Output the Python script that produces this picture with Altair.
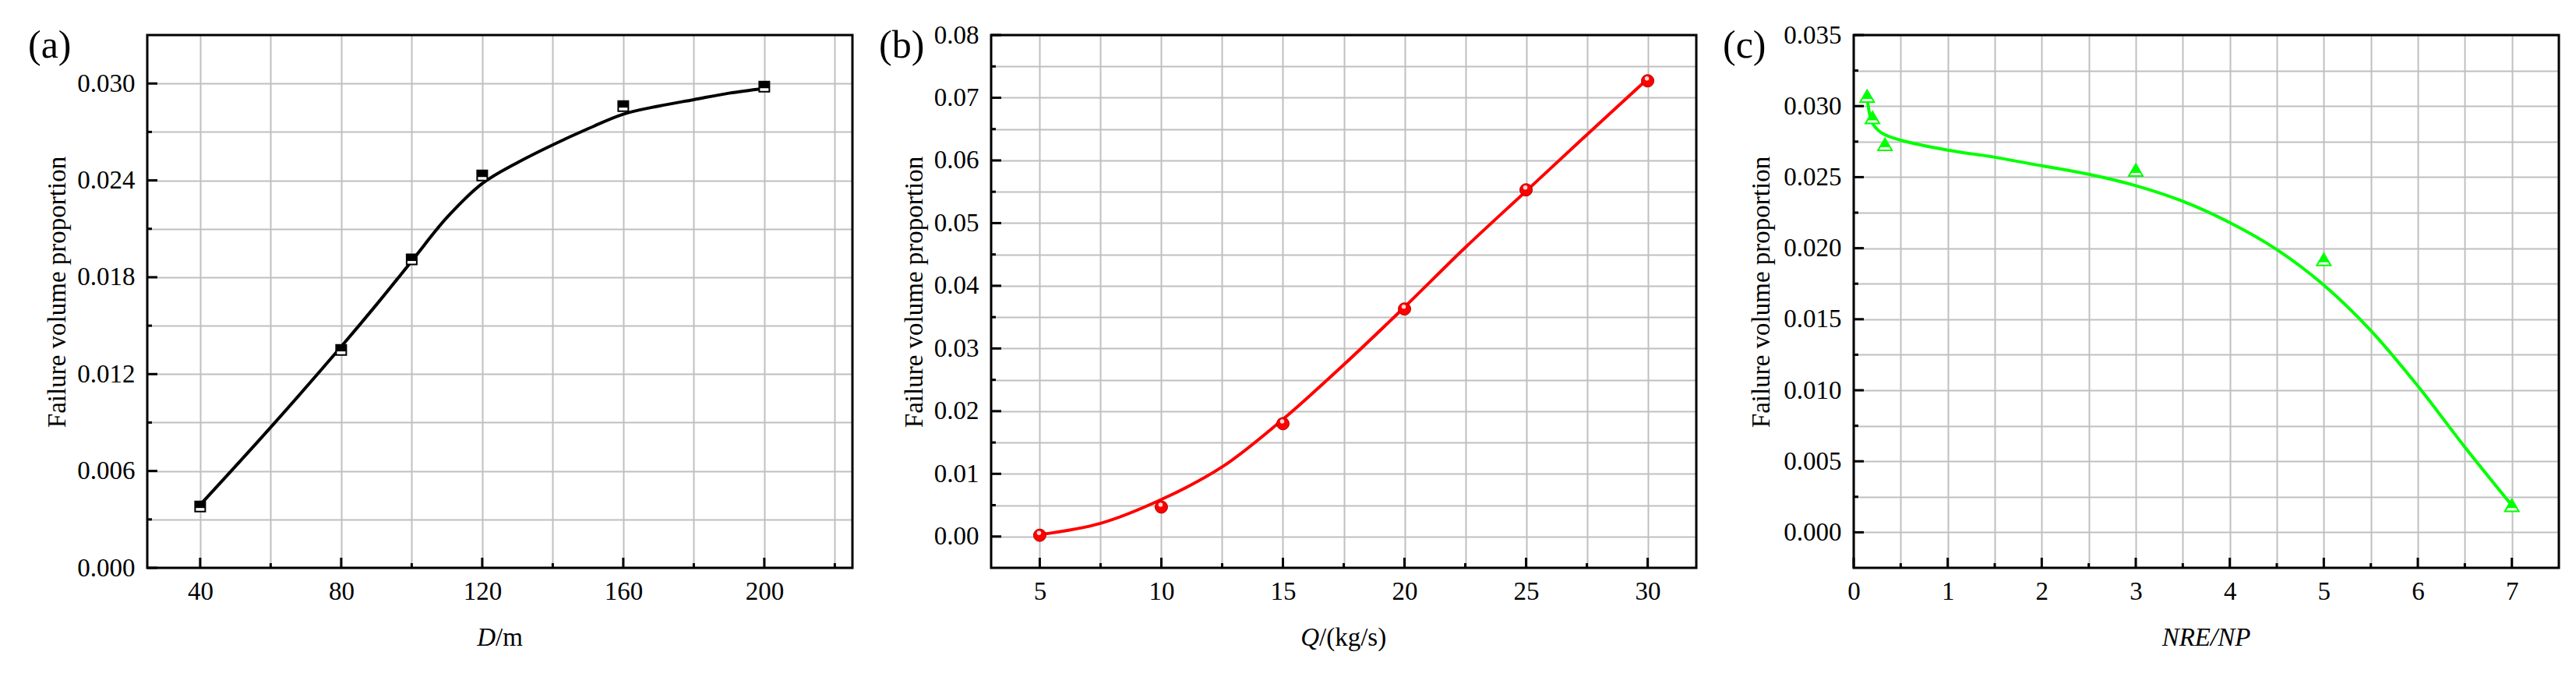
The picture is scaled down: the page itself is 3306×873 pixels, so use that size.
import altair as alt
import pandas as pd

FONT = "Liberation Serif"
W, H = 905, 684

# ---------------- data ----------------
# (a) failure volume proportion vs D/m
a_x = [40, 80, 100, 120, 160, 200]
a_y = [0.0038, 0.0135, 0.0191, 0.0243, 0.0286, 0.0298]
a_fit_x = [40, 60, 80, 90, 100, 110, 120, 130, 140, 150, 160, 170, 180, 190, 200]
a_fit_y = [0.0039, 0.0087, 0.0137, 0.0163, 0.0190, 0.0217, 0.0238, 0.0251, 0.0262,
           0.0272, 0.0281, 0.0286, 0.0290, 0.0294, 0.0297]

# (b) failure volume proportion vs Q/(kg/s)
b_x = [5, 10, 15, 20, 25, 30]
b_y = [0.0002, 0.0047, 0.0180, 0.0363, 0.0553, 0.0727]
b_fit_x = [5, 7.5, 10, 12.5, 15, 17.5, 20, 22.5, 25, 27.5, 30]
b_fit_y = [0.0003, 0.0021, 0.0059, 0.0111, 0.0187, 0.0274, 0.0366, 0.0461, 0.0551,
           0.0641, 0.0730]

# (c) failure volume proportion vs NRE/NP
c_x = [0.143, 0.2, 0.333, 3, 5, 7]
c_y = [0.0307, 0.0292, 0.0273, 0.0255, 0.0192, 0.0019]
c_fit_x = [0.143, 0.2, 0.3, 0.5, 1, 1.5, 2, 2.5, 3, 3.5, 4, 4.5, 5, 5.5, 6, 6.5, 7]
c_fit_y = [0.0306, 0.0288, 0.0281, 0.0276, 0.0269, 0.0264, 0.0258, 0.0252, 0.0244,
           0.0233, 0.0218, 0.0199, 0.0174, 0.0142, 0.0103, 0.0060, 0.0019]

# axis tick values (grid at every tick, labels at major ticks)
a_xticks_major = [40, 80, 120, 160, 200]
a_xticks_minor = [60, 100, 140, 180, 220]
a_yticks_major = [0.0, 0.006, 0.012, 0.018, 0.024, 0.030]
a_yticks_minor = [0.003, 0.009, 0.015, 0.021, 0.027]

b_xticks_major = [5, 10, 15, 20, 25, 30]
b_xticks_minor = [7.5, 12.5, 17.5, 22.5, 27.5]
b_yticks_major = [0.0, 0.01, 0.02, 0.03, 0.04, 0.05, 0.06, 0.07, 0.08]
b_yticks_minor = [0.005, 0.015, 0.025, 0.035, 0.045, 0.055, 0.065, 0.075]

c_xticks_major = [0, 1, 2, 3, 4, 5, 6, 7]
c_xticks_minor = [0.5, 1.5, 2.5, 3.5, 4.5, 5.5, 6.5]
c_yticks_major = [0.0, 0.005, 0.010, 0.015, 0.020, 0.025, 0.030, 0.035]
c_yticks_minor = [0.0025, 0.0075, 0.0125, 0.0175, 0.0225, 0.0275, 0.0325]

YTITLE = "Failure volume proportion"


def label_expr(majors, fmt, mult):
    keys = ",".join(str(int(round(m * mult))) for m in majors)
    return (f"indexof([{keys}], round(datum.value*{mult})) >= 0 ? "
            f"format(datum.value, '{fmt}') : ''")


def text_layer(txt, x, y, size=33, style="normal", align="center", angle=0, baseline="middle"):
    kw = dict(font=FONT, fontSize=size, fontStyle=style, align=align,
              baseline=baseline, color="black")
    if angle:
        kw["angle"] = angle
    return alt.Chart(pd.DataFrame({"t": [txt]})).mark_text(**kw).encode(
        text="t:N", x=alt.value(x), y=alt.value(y))


def panel(xs, ys, fx, fy, xdom, ydom, xmaj, xmin, ymaj, ymin, xfmt, yfmt,
          xmult, ymult, color, markers, xtitle_layers, plabel, plabel_x, ytitle_x):
    xs_scale = alt.Scale(domain=xdom, nice=False, zero=False)
    ys_scale = alt.Scale(domain=ydom, nice=False, zero=False)
    xvals = sorted(xmaj + xmin)
    yvals = sorted(ymaj + ymin)
    xaxis = alt.Axis(values=xvals, labelExpr=label_expr(xmaj, xfmt, xmult), title="",
                     grid=True, ticks=False, domain=False, labelPadding=14,
                     labelFlush=False, labelOverlap=False)
    yaxis = alt.Axis(values=yvals, labelExpr=label_expr(ymaj, yfmt, ymult), title="",
                     grid=True, ticks=False, domain=False, labelPadding=16,
                     labelFlush=False, labelOverlap=False)

    def X(f):
        return alt.X(f, scale=xs_scale, axis=xaxis)

    def Y(f):
        return alt.Y(f, scale=ys_scale, axis=yaxis)

    df_fit = pd.DataFrame({"x": fx, "y": fy})
    df_pts = pd.DataFrame({"x": xs, "y": ys})

    base = alt.Chart(df_fit).mark_line(color=color, strokeWidth=4,
                                       interpolate="catmull-rom").encode(
        x=X("x:Q"), y=Y("y:Q"))
    layers = [base]
    for mk in markers:
        layers.append(alt.Chart(df_pts).mark_point(**mk).encode(x=X("x:Q"), y=Y("y:Q")))

    tick = dict(color="black", strokeWidth=3)
    layers.append(alt.Chart(pd.DataFrame({"x": xmaj})).mark_rule(**tick).encode(
        x=X("x:Q"), y=alt.value(H), y2=alt.value(H - 13)))
    layers.append(alt.Chart(pd.DataFrame({"x": xmin})).mark_rule(**tick).encode(
        x=X("x:Q"), y=alt.value(H), y2=alt.value(H - 6)))
    layers.append(alt.Chart(pd.DataFrame({"y": ymaj})).mark_rule(**tick).encode(
        y=Y("y:Q"), x=alt.value(0), x2=alt.value(13)))
    layers.append(alt.Chart(pd.DataFrame({"y": ymin})).mark_rule(**tick).encode(
        y=Y("y:Q"), x=alt.value(0), x2=alt.value(6)))

    # frame
    layers.append(alt.Chart(pd.DataFrame({"d": [0]})).mark_rect(
        filled=False, stroke="black", strokeWidth=3).encode(
        x=alt.value(0), x2=alt.value(W), y=alt.value(0), y2=alt.value(H)))

    layers += xtitle_layers
    layers.append(text_layer(YTITLE, ytitle_x, H / 2 - 12, size=33, angle=270))
    layers.append(text_layer(plabel, plabel_x, 14, size=50, align="left"))
    return alt.layer(*layers).properties(width=W, height=H)


sq_bg = dict(shape="M-1,-1L1,-1L1,1L-1,1Z", size=169, filled=True, fill="white",
             stroke="black", strokeWidth=2, opacity=1)
sq_top = dict(shape="M-1,-1L1,-1L1,0.3L-1,0.3Z", size=169, filled=True, fill="black",
              strokeWidth=0, opacity=1)
ball = dict(shape="circle", size=256, filled=True, fill="#ff0000", stroke="#b00000",
            strokeWidth=1, opacity=1)
ball_hi = dict(shape="circle", size=30, filled=True, fill="#ffd8d8", strokeWidth=0,
               opacity=1, xOffset=-1, yOffset=-3)
tri_bg = dict(shape="M0,-0.85L1,0.85L-1,0.85Z", size=324, filled=True, fill="white",
              stroke="#00ff00", strokeWidth=2, opacity=1)
tri_top = dict(shape="M0,-0.85L0.735,0.4L-0.735,0.4Z", size=324, filled=True,
               fill="#00ff00", strokeWidth=0, opacity=1)

TY = 774  # x title vertical position relative to plot top

pa = panel(a_x, a_y, a_fit_x, a_fit_y, [25, 225], [0, 0.033],
           a_xticks_major, a_xticks_minor, a_yticks_major, a_yticks_minor,
           "d", ".3f", 1, 1000, "black", [sq_bg, sq_top],
           [text_layer("D", 447, TY, style="italic", align="right"),
            text_layer("/m", 447, TY, align="left")],
           "(a)", -153, -115)

pb = panel(b_x, b_y, b_fit_x, b_fit_y, [3, 32], [-0.005, 0.08],
           b_xticks_major, b_xticks_minor, b_yticks_major, b_yticks_minor,
           "d", ".2f", 10, 1000, "#ff0000", [ball, ball_hi],
           [text_layer("Q", 421, TY, style="italic", align="right"),
            text_layer("/(kg/s)", 421, TY, align="left")],
           "(b)", -144, -98)

pc = panel(c_x, c_y, c_fit_x, c_fit_y, [0, 7.5], [-0.0025, 0.035],
           c_xticks_major, c_xticks_minor, c_yticks_major, c_yticks_minor,
           "d", ".3f", 10, 10000, "#00ff00", [tri_bg, tri_top],
           [text_layer("NRE/NP", W / 2, TY, style="italic")],
           "(c)", -168, -118)

inner = alt.hconcat(pa, pb, spacing=178, bounds="flush")
chart = alt.hconcat(inner, pc, spacing=32, bounds="full").properties(
    padding={"left": 28, "top": 21, "right": 5, "bottom": 5}
).configure_view(strokeWidth=0).configure_axis(
    labelFont=FONT, labelFontSize=33, labelColor="black",
    titleFont=FONT, titleFontSize=33, titleColor="black",
    gridColor="#c0c0c0", gridWidth=2,
)

chart.save("out.html", embed_options={"renderer": "svg", "actions": False})
